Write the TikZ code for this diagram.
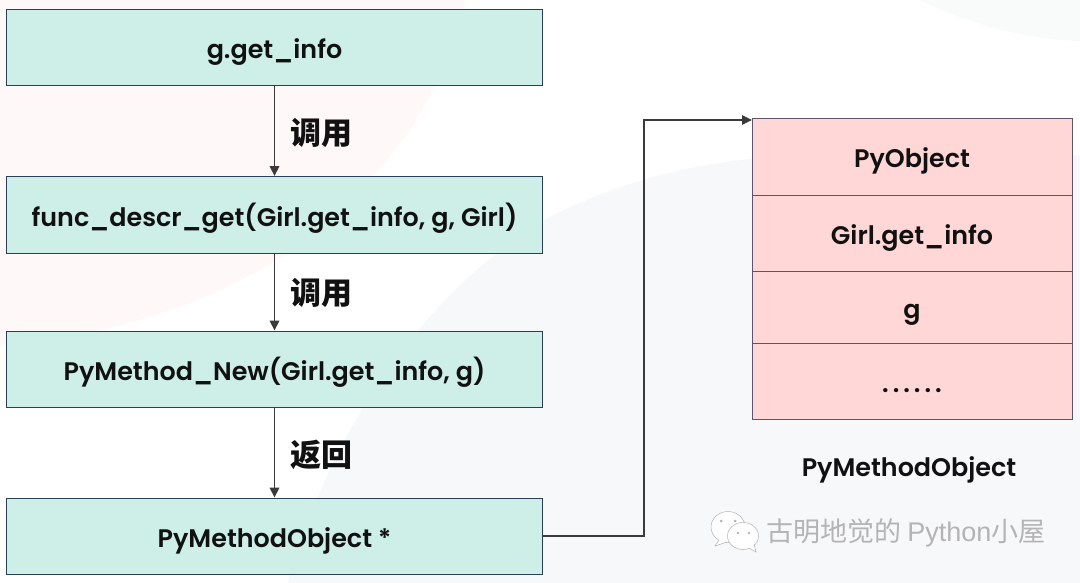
\documentclass[tikz,border=0pt]{standalone}
\usepackage{fontspec}
\setmainfont{Poppins}
\newfontfamily\codefont{Poppins SemiBold}
\newfontfamily\cjkfont{Noto Sans CJK SC}
\newfontfamily\markfont{Liberation Sans}
\definecolor{pageblush}{HTML}{FEF8F8}
\definecolor{pagemist}{HTML}{F6F8FA}
\definecolor{pagemint}{HTML}{F8FBFA}
\definecolor{stepfill}{HTML}{CDEFE8}
\definecolor{stepline}{HTML}{2A3F55}
\definecolor{slotfill}{HTML}{FFD7D7}
\definecolor{slotline}{HTML}{5A5470}
\definecolor{wire}{HTML}{3A3A3A}
\definecolor{inktext}{HTML}{111111}
\definecolor{markgrey}{HTML}{B4B4B4}
\usetikzlibrary{arrows.meta}
\tikzset{
  codetext/.style={text=inktext,inner sep=0pt,font=\codefont\fontsize{25.4}{30}\selectfont},
  stepbox/.style={codetext,draw=stepline,line width=0.9pt,fill=stepfill,minimum width=536pt,text height=23pt,text depth=0pt},
  slotbox/.style={codetext,draw=slotline,line width=0.9pt,fill=slotfill,minimum width=320pt,text height=23pt,text depth=0pt},
  flowline/.style={draw=wire,line width=1.7pt,-{Stealth[length=10pt,width=9.5pt,inset=0pt]}},
  verblabel/.style={text=inktext,inner sep=0pt,font=\cjkfont\bfseries\fontsize{31}{34}\selectfont},
  caption/.style={codetext,anchor=base},
  bubble/.style={fill=white,draw=markgrey,line width=0.5pt},
  eye/.style={fill=markgrey}
}
\begin{document}
\begin{tikzpicture}[x=1pt,y=-1pt]
\useasboundingbox (0,0) rectangle (1080,583);
% page background washes
\fill[white] (0,0) rectangle (1080,583);
\fill[pageblush] (0,0) -- (465,0) .. controls (445,90) and (395,170) .. (300,245) .. controls (220,300) and (120,335) .. (0,345) -- cycle;
\fill[pagemist] (288,583) .. controls (320,470) and (390,320) .. (540,222) .. controls (620,180) and (700,160) .. (800,155) -- (1080,155) -- (1080,583) -- cycle;
\fill[pagemint] (920,0) .. controls (970,25) and (1030,40) .. (1080,41) -- (1080,0) -- cycle;
% call chain
\node[stepbox,minimum height=76pt] (info) at (274.5,47.3) {g.get\_info};
\node[stepbox,minimum height=77pt] (descr) at (274.5,215) {func\_descr\_get(Girl.get\_info, g, Girl)};
\node[stepbox,minimum height=76pt] (newm) at (274.5,369) {PyMethod\_New(Girl.get\_info, g)};
\node[stepbox,minimum height=76pt] (ptr) at (274.5,536) {PyMethodObject *};
\draw[flowline] (info) -- (descr);
\draw[flowline] (descr) -- (newm);
\draw[flowline] (newm) -- (ptr);
\node[verblabel] (call1) at (321,133) {调用};
\node[verblabel] (call2) at (321,293) {调用};
\node[verblabel] (back) at (321,455) {返回};
% object layout
\node[slotbox,minimum height=77pt] (head) at (912,156.5) {PyObject};
\node[slotbox,minimum height=76pt] (func) at (912,233) {Girl.get\_info};
\node[slotbox,minimum height=72.5pt] (self) at (912,307.3) {g};
\node[slotbox,minimum height=75.5pt] (rest) at (912,381.3) {.\kern4pt.\kern4pt.\kern4pt.\kern4pt.\kern4pt.};
\node[caption] (objname) at (909,476) {PyMethodObject};
% link from the returned pointer to the object
\coordinate (turn) at (644,120);
\coordinate (entry) at (752,120);
\draw[flowline] (ptr.east) -| (turn) -- (entry);
% account mark
\draw[bubble] (728,527) ellipse (17pt and 15.5pt);
\fill[white,draw=markgrey,line width=0.5pt] (719,540) -- (715,546) -- (727,542);
\draw[bubble] (743,536) ellipse (15.5pt and 13.5pt);
\fill[white,draw=markgrey,line width=0.5pt] (749,548) -- (756,552) -- (754,544);
\fill[eye] (721,521) circle (1.5pt) (735,521) circle (1.5pt) (738,533) circle (1.3pt) (749,533) circle (1.3pt);
\node[inner sep=0pt,text=markgrey,anchor=west,font=\fontsize{27}{30}\selectfont] (brand) at (766,533) {\cjkfont 古明地觉的 \markfont Python\cjkfont 小屋};
\end{tikzpicture}
\end{document}
